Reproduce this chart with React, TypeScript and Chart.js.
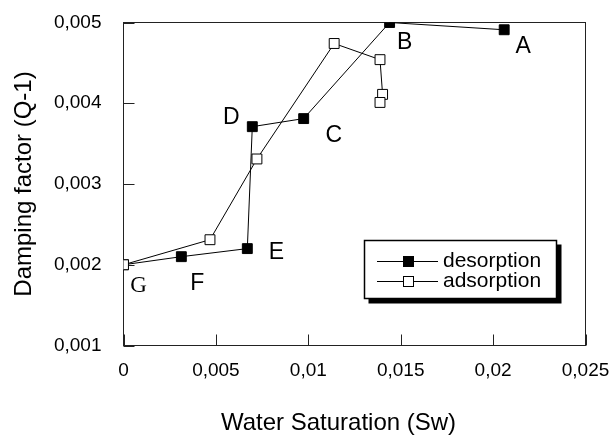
import React, { useEffect, useRef } from 'react';
import { Chart, registerables } from 'chart.js';

Chart.register(...registerables);

// ---- data ----
const desorptionSw = [0.0206, 0.0144, 0.00975, 0.00697, 0.0067, 0.00313, 0];
const desorptionQ = [0.00491, 0.005, 0.00381, 0.00371, 0.0022, 0.0021, 0.002];
const adsorptionSw = [0, 0.00468, 0.00722, 0.0114, 0.01388, 0.01402, 0.01388];
const adsorptionQ = [0.002, 0.00231, 0.00331, 0.00474, 0.00454, 0.00411, 0.00401];
const pointLabels = ['A', 'B', 'C', 'D', 'E', 'F', 'G'];
const xTickLabels = ['0', '0,005', '0,01', '0,015', '0,02', '0,025'];
const yTickLabels = ['0,001', '0,002', '0,003', '0,004', '0,005'];
const legendLabels = ['desorption', 'adsorption'];
const xTitle = 'Water Saturation (Sw)';
const yTitle = 'Damping factor (Q-1)';

// ---- style ----
const SANS = '"Liberation Sans", Arial, Helvetica, sans-serif';
const SERIF = '"Liberation Serif", "Times New Roman", serif';
const labelOffsets: [number, number][] = [
  [19, 17], [15, 20], [30, 17], [-21, -9], [29, 4], [16, 27], [15, 21],
];
const labelFonts = [SANS, SANS, SANS, SANS, SANS, SANS, SERIF];

const zeroPad = (s: any) => {
  s.paddingTop = 0;
  s.paddingBottom = 0;
  s.paddingLeft = 0;
  s.paddingRight = 0;
};

const decorPlugin = {
  id: 'decor',
  beforeDatasetsDraw(chart: any) {
    const { ctx, chartArea: a, scales } = chart;
    ctx.save();
    ctx.strokeStyle = '#222';
    ctx.lineWidth = 1;
    ctx.strokeRect(a.left, a.top, a.right - a.left, a.bottom - a.top);
    // inner ticks
    ctx.beginPath();
    scales.y.ticks.forEach((t: any) => {
      const y = Math.round(scales.y.getPixelForValue(t.value)) + 0.5;
      ctx.moveTo(a.left, y);
      ctx.lineTo(a.left + 11, y);
    });
    scales.x.ticks.forEach((t: any) => {
      const x = Math.round(scales.x.getPixelForValue(t.value)) + 0.5;
      ctx.moveTo(x, a.bottom);
      ctx.lineTo(x, a.bottom - 11);
    });
    ctx.stroke();
    ctx.restore();
  },
  afterDraw(chart: any) {
    const { ctx, chartArea: a } = chart;
    ctx.save();
    // point labels on desorption series
    const meta = chart.getDatasetMeta(0);
    ctx.fillStyle = '#000';
    ctx.textAlign = 'center';
    ctx.textBaseline = 'middle';
    meta.data.forEach((pt: any, i: number) => {
      ctx.font = `23px ${labelFonts[i]}`;
      ctx.fillText(pointLabels[i], pt.x + labelOffsets[i][0], pt.y + labelOffsets[i][1]);
    });
    // x title
    ctx.font = `24px ${SANS}`;
    ctx.fillText(xTitle, (a.left + a.right) / 2 - 16, 423);

    // legend
    const bx = 364.5, by = 240.5, bw = 192, bh = 58;
    ctx.fillStyle = '#000';
    ctx.fillRect(bx + 4, by + 4, bw + 1, bh + 1);
    ctx.fillStyle = '#fff';
    ctx.fillRect(bx, by, bw, bh);
    ctx.strokeStyle = '#000';
    ctx.lineWidth = 1.5;
    ctx.strokeRect(bx, by, bw, bh);
    const ds = chart.data.datasets;
    [0, 1].forEach((k) => {
      const y = by + 21 + k * 20;
      ctx.strokeStyle = '#000';
      ctx.lineWidth = 1;
      ctx.beginPath();
      ctx.moveTo(377, y);
      ctx.lineTo(438, y);
      ctx.stroke();
      ctx.fillStyle = ds[k].pointBackgroundColor;
      ctx.fillRect(403.5, y - 5, 10, 10);
      ctx.strokeRect(403.5, y - 5, 10, 10);
      ctx.fillStyle = '#000';
      ctx.textAlign = 'left';
      ctx.font = `21px ${SANS}`;
      ctx.fillText(legendLabels[k], 443, y);
    });
    ctx.restore();
  },
};

export default function App() {
  const ref = useRef<HTMLCanvasElement>(null);
  useEffect(() => {
    const canvas = ref.current!;
    const chart = new Chart(canvas, {
      type: 'scatter',
      data: {
        datasets: [
          {
            label: legendLabels[0],
            data: desorptionSw.map((x, i) => ({ x, y: desorptionQ[i] })),
            showLine: true,
            borderColor: '#000',
            borderWidth: 1,
            pointStyle: 'rect',
            pointRadius: 7,
            pointBackgroundColor: '#000',
            pointBorderColor: '#000',
            pointBorderWidth: 1,
            order: 2,
          },
          {
            label: legendLabels[1],
            data: adsorptionSw.map((x, i) => ({ x, y: adsorptionQ[i] })),
            showLine: true,
            borderColor: '#000',
            borderWidth: 1,
            pointStyle: 'rect',
            pointRadius: 7,
            pointBackgroundColor: '#fff',
            pointBorderColor: '#000',
            pointBorderWidth: 1,
            order: 1,
          },
        ],
      },
      options: {
        responsive: false,
        animation: false,
        events: [],
        layout: { padding: { top: 22.5, right: 27.5, bottom: 0, left: 0 } },
        plugins: { legend: { display: false }, tooltip: { enabled: false } },
        scales: {
          x: {
            type: 'linear',
            min: 0,
            max: 0.025,
            grid: { display: false, drawTicks: false },
            border: { display: false },
            ticks: {
              stepSize: 0.005,
              padding: 14,
              maxRotation: 0,
              autoSkip: false,
              color: '#000',
              font: { family: SANS, size: 19 },
              callback: (_v: any, i: number) => xTickLabels[i],
            },
            afterFit: (s: any) => {
              s.height = 89.5;
              zeroPad(s);
            },
          },
          y: {
            type: 'linear',
            min: 0.001,
            max: 0.005,
            grid: { display: false, drawTicks: false },
            border: { display: false },
            ticks: {
              stepSize: 0.001,
              padding: 22,
              autoSkip: false,
              color: '#000',
              font: { family: SANS, size: 19 },
              callback: (_v: any, i: number) => yTickLabels[i],
            },
            title: {
              display: true,
              text: yTitle,
              color: '#000',
              font: { family: SANS, size: 24, lineHeight: 1 },
              padding: { top: 12, bottom: 0 },
            },
            afterFit: (s: any) => {
              s.width = 123.5;
              zeroPad(s);
            },
          },
        },
      },
      plugins: [decorPlugin],
    } as any);
    return () => chart.destroy();
  }, []);
  return (
    <div style={{ position: 'fixed', left: 0, top: 0, width: 613, height: 435, background: '#fff' }}>
      <canvas ref={ref} width={613} height={435} style={{ display: 'block' }} />
    </div>
  );
}
